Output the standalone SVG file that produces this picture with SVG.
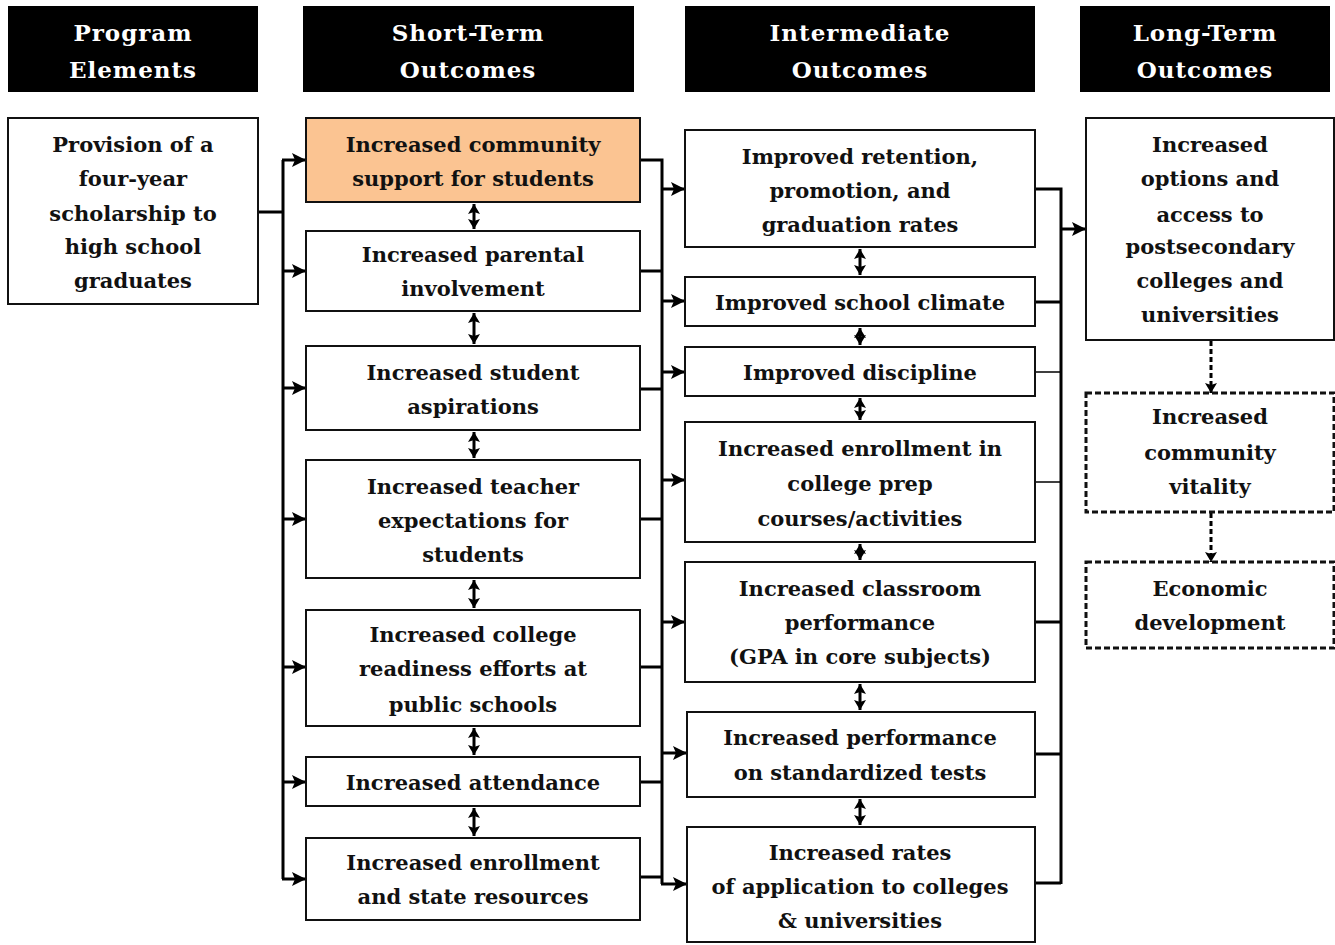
<svg xmlns="http://www.w3.org/2000/svg" width="1335" height="945" viewBox="0 0 1335 945">
<defs>
<style>
.hdr{fill:#000}
.ht{fill:#fff;font-family:"DejaVu Serif","Liberation Serif",serif;font-weight:bold;font-size:23px;text-anchor:middle;dominant-baseline:central;letter-spacing:1px}
.box{fill:#fff;stroke:#111;stroke-width:2}
.org{fill:#FBC492;stroke:#111;stroke-width:2}
.dbox{fill:#fff;stroke:#111;stroke-width:3;stroke-dasharray:6,3}
.t{fill:#111;font-family:"DejaVu Serif","Liberation Serif",serif;font-weight:bold;font-size:21px;text-anchor:middle;dominant-baseline:central}
.thk{stroke:#000;stroke-width:3;fill:none}
.thn{stroke:#000;stroke-width:1.3;fill:none}
.arr{stroke:#000;stroke-width:3;fill:none;marker-end:url(#ah)}
.dbl{stroke:#000;stroke-width:3;fill:none;marker-start:url(#sh);marker-end:url(#sh)}
.dsh{stroke:#000;stroke-width:3;fill:none;stroke-dasharray:5,3;marker-end:url(#sh)}
</style>
<marker id="ah" markerUnits="userSpaceOnUse" markerWidth="15" markerHeight="14" refX="14" refY="7" orient="auto"><path d="M0,0 L14,7 L0,14 L3,7 z" fill="#000"/></marker>
<marker id="sh" markerUnits="userSpaceOnUse" markerWidth="11" markerHeight="12" refX="10" refY="6" orient="auto-start-reverse"><path d="M0,0 L10,6 L0,12 L2,6 z" fill="#000"/></marker>
</defs>
<rect width="1335" height="945" fill="#fff"/>

<g id="headers">
<g id="h1"><rect class="hdr" x="8" y="6" width="250" height="86"/><text class="ht" x="133" y="32">Program</text><text class="ht" x="133" y="69">Elements</text></g>
<g id="h2"><rect class="hdr" x="303" y="6" width="331" height="86"/><text class="ht" x="468" y="32">Short-Term</text><text class="ht" x="468" y="69">Outcomes</text></g>
<g id="h3"><rect class="hdr" x="685" y="6" width="350" height="86"/><text class="ht" x="860" y="32">Intermediate</text><text class="ht" x="860" y="69">Outcomes</text></g>
<g id="h4"><rect class="hdr" x="1080" y="6" width="250" height="86"/><text class="ht" x="1205" y="32">Long-Term</text><text class="ht" x="1205" y="69">Outcomes</text></g>
</g>

<g id="connectors">
<path class="thk" d="M258,212 H283 M283,160 V879"/>
<line class="arr" x1="282" y1="160" x2="306" y2="160"/>
<line class="arr" x1="282" y1="271" x2="306" y2="271"/>
<line class="arr" x1="282" y1="388" x2="306" y2="388"/>
<line class="arr" x1="282" y1="519" x2="306" y2="519"/>
<line class="arr" x1="282" y1="667" x2="306" y2="667"/>
<line class="arr" x1="282" y1="782" x2="306" y2="782"/>
<line class="arr" x1="282" y1="879" x2="306" y2="879"/>
<path class="thk" d="M640,160 H662 V884 M638,271 H662 M638,389 H662 M638,519 H662 M638,667 H662 M638,782 H662 M638,877 H662"/>
<line class="arr" x1="661" y1="189" x2="685" y2="189"/>
<line class="arr" x1="661" y1="301" x2="685" y2="301"/>
<line class="arr" x1="661" y1="372" x2="685" y2="372"/>
<line class="arr" x1="661" y1="480" x2="685" y2="480"/>
<line class="arr" x1="661" y1="622" x2="685" y2="622"/>
<line class="arr" x1="661" y1="753" x2="687" y2="753"/>
<line class="arr" x1="661" y1="884" x2="687" y2="884"/>
<path class="thk" d="M1035,189 H1061 V884 M1035,302 H1061 M1035,622 H1061 M1035,754 H1061 M1035,883 H1061"/>
<path class="thn" d="M1035,372 H1061 M1035,482 H1061"/>
<line class="arr" x1="1060" y1="229" x2="1086" y2="229"/>
<line class="dsh" x1="1211" y1="341" x2="1211" y2="393"/>
<line class="dsh" x1="1211" y1="513" x2="1211" y2="562"/>
<line class="dbl" x1="474" y1="204" x2="474" y2="229"/>
<line class="dbl" x1="474" y1="313" x2="474" y2="344"/>
<line class="dbl" x1="474" y1="432" x2="474" y2="458"/>
<line class="dbl" x1="474" y1="580" x2="474" y2="608"/>
<line class="dbl" x1="474" y1="728" x2="474" y2="755"/>
<line class="dbl" x1="474" y1="808" x2="474" y2="836"/>
<line class="dbl" x1="860" y1="249" x2="860" y2="275"/>
<line class="dbl" x1="860" y1="328" x2="860" y2="345"/>
<line class="dbl" x1="860" y1="398" x2="860" y2="420"/>
<line class="dbl" x1="860" y1="544" x2="860" y2="560"/>
<line class="dbl" x1="860" y1="684" x2="860" y2="710"/>
<line class="dbl" x1="860" y1="799" x2="860" y2="825"/>
</g>

<g id="n-provision"><rect class="box" x="8" y="118" width="250" height="186"/>
<text class="t" x="133" y="144">Provision of a</text><text class="t" x="133" y="178">four-year</text><text class="t" x="133" y="213">scholarship to</text><text class="t" x="133" y="246">high school</text><text class="t" x="133" y="280">graduates</text></g>

<g id="s1"><rect class="org" x="306" y="118" width="334" height="84"/><text class="t" x="473" y="144">Increased community</text><text class="t" x="473" y="178">support for students</text></g>
<g id="s2"><rect class="box" x="306" y="231" width="334" height="80"/><text class="t" x="473" y="254">Increased parental</text><text class="t" x="473" y="288">involvement</text></g>
<g id="s3"><rect class="box" x="306" y="346" width="334" height="84"/><text class="t" x="473" y="372">Increased student</text><text class="t" x="473" y="406">aspirations</text></g>
<g id="s4"><rect class="box" x="306" y="460" width="334" height="118"/><text class="t" x="473" y="486">Increased teacher</text><text class="t" x="473" y="520">expectations for</text><text class="t" x="473" y="554">students</text></g>
<g id="s5"><rect class="box" x="306" y="610" width="334" height="116"/><text class="t" x="473" y="634">Increased college</text><text class="t" x="473" y="668">readiness efforts at</text><text class="t" x="473" y="704">public schools</text></g>
<g id="s6"><rect class="box" x="306" y="757" width="334" height="49"/><text class="t" x="473" y="782">Increased attendance</text></g>
<g id="s7"><rect class="box" x="306" y="838" width="334" height="82"/><text class="t" x="473" y="862">Increased enrollment</text><text class="t" x="473" y="896">and state resources</text></g>

<g id="i1"><rect class="box" x="685" y="130" width="350" height="117"/><text class="t" x="860" y="156">Improved retention,</text><text class="t" x="860" y="190">promotion, and</text><text class="t" x="860" y="224">graduation rates</text></g>
<g id="i2"><rect class="box" x="685" y="277" width="350" height="49"/><text class="t" x="860" y="302">Improved school climate</text></g>
<g id="i3"><rect class="box" x="685" y="347" width="350" height="49"/><text class="t" x="860" y="372">Improved discipline</text></g>
<g id="i4"><rect class="box" x="685" y="422" width="350" height="120"/><text class="t" x="860" y="448">Increased enrollment in</text><text class="t" x="860" y="483">college prep</text><text class="t" x="860" y="518">courses/activities</text></g>
<g id="i5"><rect class="box" x="685" y="562" width="350" height="120"/><text class="t" x="860" y="588">Increased classroom</text><text class="t" x="860" y="622">performance</text><text class="t" x="860" y="656">(GPA in core subjects)</text></g>
<g id="i6"><rect class="box" x="687" y="712" width="348" height="85"/><text class="t" x="860" y="737">Increased performance</text><text class="t" x="860" y="772">on standardized tests</text></g>
<g id="i7"><rect class="box" x="687" y="827" width="348" height="115"/><text class="t" x="860" y="852">Increased rates</text><text class="t" x="860" y="886">of application to colleges</text><text class="t" x="860" y="920">&amp; universities</text></g>

<g id="l1"><rect class="box" x="1086" y="118" width="248" height="222"/><text class="t" x="1210" y="144">Increased</text><text class="t" x="1210" y="178">options and</text><text class="t" x="1210" y="214">access to</text><text class="t" x="1210" y="246">postsecondary</text><text class="t" x="1210" y="280">colleges and</text><text class="t" x="1210" y="314">universities</text></g>
<g id="l2"><rect class="dbox" x="1086" y="393" width="248" height="119"/><text class="t" x="1210" y="416">Increased</text><text class="t" x="1210" y="452">community</text><text class="t" x="1210" y="486">vitality</text></g>
<g id="l3"><rect class="dbox" x="1086" y="562" width="248" height="86"/><text class="t" x="1210" y="588">Economic</text><text class="t" x="1210" y="622">development</text></g>
</svg>
